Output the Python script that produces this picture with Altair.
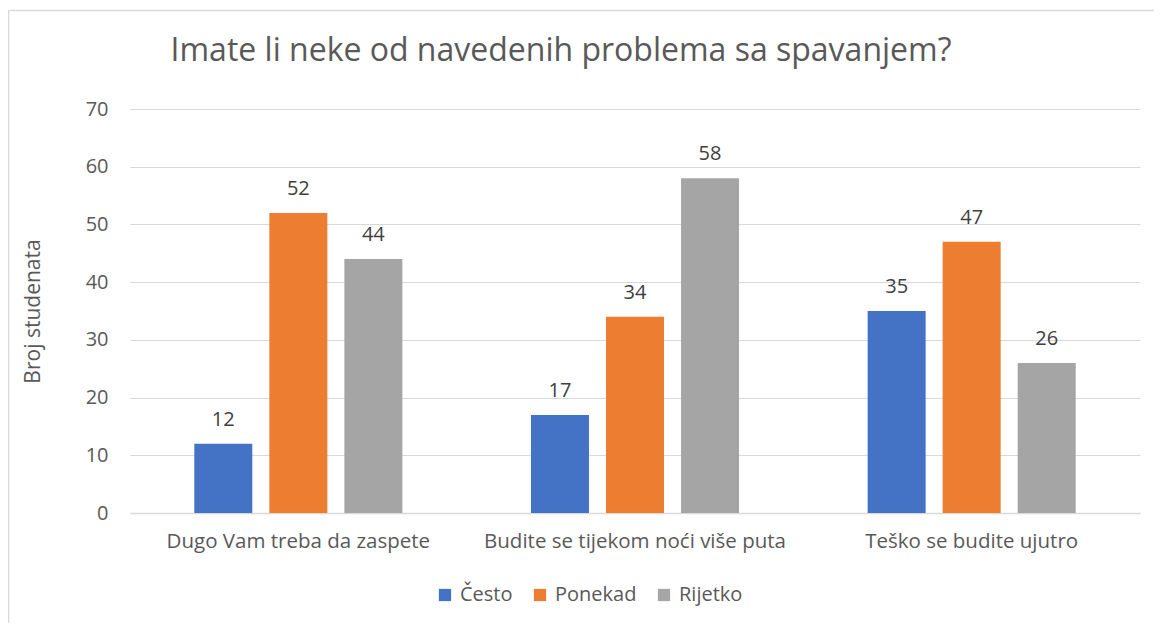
import altair as alt
import pandas as pd

categories = ["Dugo Vam treba da zaspete", "Budite se tijekom noći više puta", "Teško se budite ujutro"]
series = ["Često", "Ponekad", "Rijetko"]
cesto = [12, 17, 35]
ponekad = [52, 34, 47]
rijetko = [44, 58, 26]
colors = ["#4472C4", "#ED7D31", "#A5A5A5"]

rows = []
for i, c in enumerate(categories):
    for s, vals in zip(series, [cesto, ponekad, rijetko]):
        rows.append({"kategorija": c, "serija": s, "vrijednost": vals[i]})
df = pd.DataFrame(rows)

FONT = "Open Sans"
TXT = "#595959"
FS = 20

xenc = alt.X("kategorija:N", sort=categories,
             scale=alt.Scale(paddingInner=0.382, paddingOuter=0.191),
             axis=alt.Axis(title=None, labelAngle=0, labelFontSize=20.5, labelColor=TXT,
                           labelFont=FONT, labelPadding=18, ticks=False, labelLimit=0,
                           domainColor="#D9D9D9", domainWidth=1.5))
xoff = alt.XOffset("serija:N", sort=series, scale=alt.Scale(paddingInner=0.227, paddingOuter=0))

bars = alt.Chart(df).mark_bar().encode(
    x=xenc,
    xOffset=xoff,
    y=alt.Y("vrijednost:Q", scale=alt.Scale(domain=[0, 70]),
            axis=alt.Axis(title="Broj studenata", values=list(range(0, 80, 10)),
                          titleFontSize=21, titleFont=FONT, titleColor=TXT, titleFontWeight="normal",
                          titlePadding=42, labelFontSize=FS, labelFont=FONT, labelColor=TXT,
                          labelPadding=22, ticks=False, domain=False,
                          gridColor="#D9D9D9", gridWidth=1)),
    color=alt.Color("serija:N", sort=series, scale=alt.Scale(domain=series, range=colors),
                    legend=alt.Legend(title=None, orient="none", direction="horizontal",
                                      legendX=305, legendY=476, symbolType="square",
                                      symbolSize=150, symbolStrokeWidth=0, labelFontSize=FS,
                                      labelFont=FONT, labelColor=TXT, labelOffset=5,
                                      columnPadding=17)),
)

labels = alt.Chart(df).mark_text(baseline="bottom", dy=-14, fontSize=FS, font=FONT, color="#404040").encode(
    x=alt.X("kategorija:N", sort=categories),
    xOffset=alt.XOffset("serija:N", sort=series),
    y="vrijednost:Q",
    text="vrijednost:Q",
)

border_left = alt.Chart(pd.DataFrame({"a": [0]})).mark_rule(color="#D9D9D9", strokeWidth=1.5).encode(
    x=alt.value(-121.5), y=alt.value(-98.5), y2=alt.value(560))
border_top = alt.Chart(pd.DataFrame({"a": [0]})).mark_rule(color="#D9D9D9", strokeWidth=1.5).encode(
    x=alt.value(-121.5), x2=alt.value(1060), y=alt.value(-98.5))

chart = alt.layer(border_left, border_top, bars, labels).properties(
    width=1010, height=404,
    title=alt.TitleParams("Imate li neke od navedenih problema sa spavanjem?", fontSize=32,
                          font=FONT, color=TXT, fontWeight="normal", anchor="middle",
                          dx=-74, offset=-58),
    autosize=alt.AutoSizeParams(type="none"),
    padding={"left": 122, "top": 101, "right": 14, "bottom": 110},
    background="white",
).configure_view(stroke=None)

chart.save("out.html", embed_options={"renderer": "svg", "actions": False})
